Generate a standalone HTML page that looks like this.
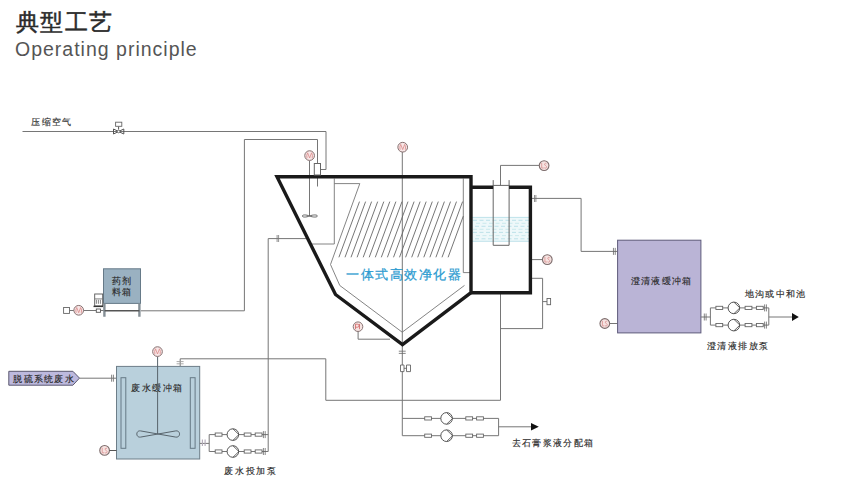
<!DOCTYPE html>
<html><head><meta charset="utf-8">
<style>
html,body{margin:0;padding:0;background:#fff;width:855px;height:493px;overflow:hidden}
svg{display:block}
text{font-family:"Liberation Sans",sans-serif}
.cj{stroke:#2a2a2a;stroke-width:0.15}
</style></head>
<body>
<svg width="855" height="493" viewBox="0 0 855 493">
<defs>
  <g id="mot"><circle r="4.85" fill="#f8e6e6" stroke="#867070" stroke-width="1"/><path d="M-2.6 2.6 Q-3.4 -0.5 -2 -2.8 L0 2.4 L2 -2.8 Q3.4 -0.5 2.6 2.6" fill="none" stroke="#d98a8a" stroke-width="0.8"/></g>
  <g id="ls"><circle r="4.85" fill="#f6e3e1" stroke="#7d6c6c" stroke-width="1.1"/><path d="M-2.4 -2.6 L-2.4 2.4 L-0.4 2.4 M2.4 -1.8 Q1.5 -2.8 0.6 -1.8 Q0 -0.6 1.6 0 Q3 0.8 2.2 2.2 Q1.2 3 0.2 2.2" fill="none" stroke="#d88f8f" stroke-width="0.8"/></g>
  <g id="pump"><circle r="5.8" fill="#fff" stroke="#555" stroke-width="1"/><path d="M0 -5.8 L6 0 L0 5.8" fill="none" stroke="#555" stroke-width="0.9"/></g>
  <g id="bx"><rect x="-3.4" y="-1.6" width="6.8" height="3.2" fill="#fff" stroke="#666" stroke-width="0.9"/></g>
  <g id="vt"><path d="M-0.9 -3.5 V3.5 M0.9 -3.5 V3.5" stroke="#666" stroke-width="0.8"/></g>
  <g id="ht"><path d="M-3.5 -1 H3.5 M-3.5 1 H3.5" stroke="#666" stroke-width="0.8"/></g>
</defs>

<!-- title -->
<text x="15.5" y="30.1" font-size="22.5" fill="#2b2b2b" stroke="#2b2b2b" stroke-width="0.5" letter-spacing="1.5">典型工艺</text>
<text x="15" y="55.6" font-size="19.5" fill="#555" letter-spacing="1.0">Operating principle</text>

<!-- thin pipes -->
<g fill="none" stroke="#767676" stroke-width="1">
  <path d="M22.5 131.5 H326 V169.5 H320.5"/>
  <path d="M140.8 310.8 H244.4 V139.5 H317.5 V186.5"/>
  <path d="M268.2 451.5 V238.6 H306"/>
  <path d="M180.2 366 V358.8 H325.8 V400.3 H500.5 V292.5"/>
  <path d="M530.4 278.3 H542.6 V328.6 H500.5"/>
  <path d="M542.6 301.6 H547"/>
  <path d="M402.3 152 V435.7"/>
  <path d="M358.1 331 V339.2 H390"/>
  <path d="M309.5 160.7 V216"/>
  <path d="M530.4 198.4 H581.1 V251.4 H617.6"/>
  <path d="M530.4 259.6 H542.5"/>
  <path d="M500.5 185.5 V165.4 H539.3"/>
  <path d="M609.6 323.5 H617.6"/>
  <path d="M69.5 310.5 H74 M83.3 310.5 H96.2 M100.5 310.5 H104"/>
</g>

<!-- main vessel internals -->
<g fill="none" stroke="#767676" stroke-width="0.9">
  <path d="M334.3 178.5 V244 H311"/>
  <path d="M334.3 183.6 H359.8 L330.5 264.5 L339.8 285.5 L402.2 332.2 L464.5 285.4"/>
  <path d="M463.3 178.5 V272.6 H470"/>
  <path stroke="#666" stroke-width="0.9" d="M359.5 201.6L338.9 257.3M365.6 201.6L345.0 257.3M371.6 201.6L351.0 257.3M377.7 201.6L357.1 257.3M383.8 201.6L363.2 257.3M389.8 201.6L369.2 257.3M395.9 201.6L375.3 257.3M402.0 201.6L381.3 257.3M408.0 201.6L387.4 257.3M414.1 201.6L393.5 257.3M420.1 201.6L399.5 257.3M426.2 201.6L405.6 257.3M432.3 201.6L411.7 257.3M438.3 201.6L417.7 257.3M444.4 201.6L423.8 257.3M450.5 201.6L429.9 257.3M456.5 201.6L435.9 257.3M462.6 201.6L442.0 257.3M463.3 216.1L448.1 257.3"/>
</g>
<!-- water in clarifier -->
<rect x="472" y="217.2" width="57" height="24.3" fill="#eef8fa"/>
<g stroke="#a9d9e2" stroke-width="0.7" fill="none">
  <path d="M472 217.4 H529 M472 241.3 H529"/>
  <path stroke-dasharray="4 2.5" d="M473 220.3 H529 M475 226.3 H529 M473 232.4 H529 M475 238.8 H529"/>
  <path stroke-dasharray="4 2.5" stroke="#bde2e8" d="M476 223.3 H529 M473 229.3 H529 M476 235.6 H529"/>
</g>
<!-- tube -->
<path d="M493.2 180.1 V245.3 H509.1 V180.1 M493.2 185.4 H509.1" fill="none" stroke="#666" stroke-width="1"/>

<!-- vessel thick -->
<g fill="none" stroke="#1a1a1a" stroke-width="3.4" stroke-linejoin="miter">
  <path d="M277 176.7 H471 V292.7 L402.5 344.5 L335.5 294.5 Z"/>
  <path d="M471 187.2 H493.2 M509.1 187.2 H530.4 V292.7 H471"/>
</g>

<!-- mixer in vessel -->
<rect x="314.3" y="163.5" width="6.2" height="11.5" fill="#fff" stroke="#666" stroke-width="1"/>
<path d="M309.6 216 C306 214.6,302.5 214.6,302.3 216 C302.5 217.4,306 217.4,309.6 216 C313 214.6,317.2 214.6,317.4 216 C317.2 217.4,313 217.4,309.6 216 Z" fill="#fff" stroke="#555" stroke-width="0.9"/>

<!-- instruments -->
<use href="#mot" x="309.6" y="155.6"/>
<use href="#mot" x="402.7" y="147.2"/>
<use href="#ls" x="544.1" y="165.6"/>
<use href="#ls" x="547.3" y="259.6"/>
<use href="#ls" x="604.8" y="323.5"/>
<g transform="translate(358 326.7)"><circle r="4.8" fill="#f6e3e1" stroke="#8a7676" stroke-width="1"/><path d="M-2.5 2.5 V-2.5 H-0.5 Q1 -2.5 1 -1 Q1 0.5 -0.5 0.5 H-2.5 M1.5 -2.8 L1.5 2.5" fill="none" stroke="#c55" stroke-width="0.7"/></g>

<!-- ticks -->
<path d="M277.1 235 V242 M278.6 235 V242" stroke="#777" stroke-width="0.8"/>
<path d="M534.5 195 V202 M535.9 195 V202" stroke="#777" stroke-width="0.8"/>
<use href="#vt" x="614.35" y="251.4"/>
<path d="M398.8 351.2 H405.7 M398.8 353.4 H405.7" stroke="#666" stroke-width="0.8"/>
<path d="M176.6 361.6 H183.6 M176.6 363.8 H183.6" stroke="#a0a0a0" stroke-width="0.9"/>
<use href="#vt" x="112.5" y="378.2"/>
<rect x="547" y="298.5" width="3.6" height="6.2" fill="#fff" stroke="#666" stroke-width="0.9"/>
<!-- check valve -->
<path d="M400.5 365 H404 V371.6 H400.5 Z M406.5 365 H410.5 V371.6 H406.5 Z M404 368.3 H406.5" fill="#fff" stroke="#666" stroke-width="0.9"/>

<!-- clarifier buffer tank -->
<rect x="617.6" y="240.2" width="83.3" height="92.7" fill="#bab4d6" stroke="#5e5b7a" stroke-width="1"/>
<text x="630.5" y="284.3" font-size="9.3" fill="#2a2a2a" class="cj" letter-spacing="1.4">澄清液缓冲箱</text>

<!-- compressed air -->
<text x="31.3" y="124.8" font-size="9.3" fill="#3a3a3a" class="cj" letter-spacing="1.25">压缩空气</text>
<path d="M113.5 129 L113.5 134 L118.6 131.5 L123.8 134 L123.8 129 L118.6 131.5 Z M118.6 129.5 V126.3" fill="none" stroke="#555" stroke-width="1"/><circle cx="118.6" cy="131.5" r="1.3" fill="#fff" stroke="#555" stroke-width="0.8"/>
<rect x="115.6" y="122.2" width="6.2" height="4.1" fill="#fff" stroke="#666" stroke-width="0.9"/>

<!-- chemical tank -->
<rect x="103.5" y="268.8" width="37" height="34.6" fill="#9ab1c1" stroke="#667a88" stroke-width="1"/>
<text x="112.0" y="284.4" font-size="9.3" fill="#2a2a2a" class="cj" letter-spacing="0.5">药剂</text>
<text x="112.0" y="294.8" font-size="9.3" fill="#2a2a2a" class="cj" letter-spacing="0.5">料箱</text>
<path d="M104.4 303.5 V316.7 M139.4 303.5 V316.7" stroke="#858f96" stroke-width="2.4"/>
<path d="M104.6 310.8 H139.4" stroke="#555" stroke-width="1.6"/>
<rect x="94.7" y="294" width="8" height="12" fill="#fff" stroke="#555" stroke-width="0.9"/>
<path d="M95 298.9 H102.5 M96.4 299.8 V303.8 M98.4 299.8 V303.8 M100.4 299.8 V303.8" stroke="#666" stroke-width="0.8"/>
<path d="M93.5 306.4 H103" stroke="#333" stroke-width="1.4"/>
<rect x="96.3" y="309" width="4.2" height="3.3" fill="#fff" stroke="#555" stroke-width="0.9"/>
<use href="#mot" x="78.7" y="310.3"/>
<rect x="63.6" y="307.5" width="5.9" height="5.9" fill="#fff" stroke="#666" stroke-width="0.9"/>

<!-- waste water source -->
<path d="M8.8 371.3 H72.9 L79.5 378.1 L72.9 385.2 H8.8 Z" fill="#bdb9de" stroke="#5a5870" stroke-width="1"/>
<text x="13.3" y="382.0" font-size="9.3" fill="#2a2a2a" class="cj" letter-spacing="1.28">脱硫系统废水</text>
<path d="M79.5 378.2 H116" stroke="#767676" stroke-width="1"/>

<!-- waste buffer tank -->
<rect x="116.5" y="366.4" width="83.2" height="92.6" fill="#b9d0dc" stroke="#6d7e89" stroke-width="1"/>
<rect x="121" y="377.7" width="4.8" height="70.6" fill="#b9d0dc" stroke="#667985" stroke-width="1"/>
<rect x="190.3" y="377.7" width="4.8" height="70.6" fill="#b9d0dc" stroke="#667985" stroke-width="1"/>
<text x="131.1" y="391.4" font-size="9.3" fill="#2a2a2a" class="cj" letter-spacing="1.5">废水缓冲箱</text>
<path d="M157.6 356.5 V434" stroke="#58646c" stroke-width="1"/>
<path d="M158 434 L140.5 430.9 C135.6 430.2,135.6 437.8,140.5 437.1 Z M158 434 L175.8 430.9 C180.8 430.2,180.8 437.8,175.8 437.1 Z" fill="none" stroke="#58646c" stroke-width="1"/>
<use href="#mot" x="157.5" y="351.6"/>
<use href="#ls" x="104.6" y="450.4"/>
<path d="M109.4 450.5 H116.5" stroke="#555" stroke-width="1"/>

<!-- waste pumps -->
<g fill="none" stroke="#767676" stroke-width="1">
  <path d="M199.7 443.4 H209.2 M209.2 434.6 V451.5 M209.2 434.6 H268.2 M209.2 451.5 H268.2"/>
</g>
<use href="#bx" x="218.6" y="434.6"/><use href="#bx" x="218.6" y="451.5"/>
<use href="#pump" x="232.9" y="434.6"/><use href="#pump" x="232.9" y="451.5"/>
<use href="#bx" x="247.6" y="434.6"/><use href="#bx" x="247.6" y="451.5"/>
<use href="#bx" x="258.6" y="434.6"/><use href="#bx" x="258.6" y="451.5"/>
<use href="#vt" x="264.3" y="434.6"/><use href="#vt" x="264.3" y="451.5"/>
<path d="M202.4 439.6 V446 M205.1 439.6 V446" stroke="#b3aab8" stroke-width="1.1"/>
<text x="224.0" y="474.2" font-size="9.3" fill="#2a2a2a" class="cj" letter-spacing="1.75">废水投加泵</text>

<!-- slurry pumps -->
<g fill="none" stroke="#767676" stroke-width="1">
  <path d="M402.3 418.4 H498.6 V435.7 H402.3 M498.6 426.8 H532"/>
</g>
<path d="M531 422.9 L538.8 426.8 L531 430.6 Z" fill="#111"/>
<use href="#bx" x="428.1" y="418.4"/><use href="#bx" x="428.1" y="435.7"/>
<use href="#pump" x="446.6" y="418.4"/><use href="#pump" x="446.6" y="435.7"/>
<use href="#bx" x="469.2" y="418.4"/><use href="#bx" x="469.2" y="435.7"/>
<use href="#bx" x="480" y="418.4"/><use href="#bx" x="480" y="435.7"/>
<text x="511.6" y="446.0" font-size="9.3" fill="#2a2a2a" class="cj" letter-spacing="1.34">去石膏浆液分配箱</text>

<!-- clarified discharge pumps -->
<g fill="none" stroke="#767676" stroke-width="1">
  <path d="M700.9 317 H710.4 M710.4 307.9 V325.1 M710.4 307.9 H768.8 V325.1 H710.4 M768.8 317 H793"/>
</g>
<path d="M792 313 L798.8 317 L792 321 Z" fill="#111"/>
<use href="#vt" x="705.2" y="317"/>
<use href="#bx" x="719.3" y="307.9"/><use href="#bx" x="719.3" y="325.1"/>
<use href="#pump" x="733.9" y="307.9"/><use href="#pump" x="733.9" y="325.1"/>
<use href="#bx" x="748.5" y="307.9"/><use href="#bx" x="748.5" y="325.1"/>
<use href="#bx" x="759.8" y="307.9"/><use href="#bx" x="759.8" y="325.1"/>
<use href="#vt" x="765.5" y="307.9"/><use href="#vt" x="765.5" y="325.1"/>
<text x="744.7" y="297.0" font-size="9.3" fill="#2a2a2a" class="cj" letter-spacing="1.36">地沟或中和池</text>
<text x="707.0" y="348.6" font-size="9.3" fill="#2a2a2a" class="cj" letter-spacing="1.44">澄清液排放泵</text>

<!-- vessel label -->
<text x="346" y="278.6" font-size="13" fill="#2b9bd0" stroke="#2b9bd0" stroke-width="0.25" letter-spacing="1.5">一体式高效净化器</text>
</svg>
</body></html>
